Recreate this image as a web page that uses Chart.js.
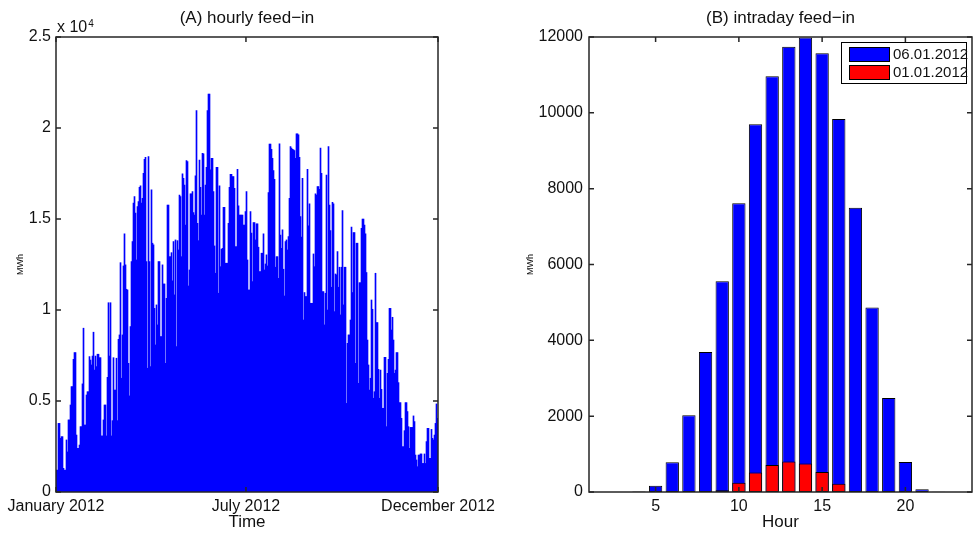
<!DOCTYPE html>
<html>
<head>
<meta charset="utf-8">
<script src="https://cdn.jsdelivr.net/npm/chart.js@4.4.1/dist/chart.umd.min.js"></script>
<style>
    html, body { margin: 0; padding: 0; background: #fff; }
    #fig { position: relative; width: 976px; height: 536px; }
    #fig canvas { position: absolute; top: 0; }
    #histA { left: 0; }
    #histB { left: 510px; }
</style>
</head>
<body>
<div id="fig">
    <canvas id="histA" width="510" height="536"></canvas>
    <canvas id="histB" width="466" height="536"></canvas>
</div>
<script>
// (A) peak feed-in, one value per pixel column of the year (MWh)
const yearPeaks = [
    1200, 1200, 3770, 3770, 2950, 3040, 3040, 1300, 1200, 1200,
    2860, 2200, 3960, 3960, 4780, 5790, 5790, 7290, 7660, 7660,
    3130, 2400, 2400, 2580, 3590, 3590, 5940, 9000, 3680, 3680,
    5330, 5510, 5510, 7440, 7250, 6980, 7470, 8780, 6700, 7470,
    6890, 7570, 7570, 7380, 7380, 3080, 3080, 3960, 4780, 4780,
    3080, 6300, 10400, 7470, 10400, 3080, 3920, 7380, 5600, 5600,
    7350, 3920, 8390, 8630, 12600, 6250, 8630, 12420, 14180, 12480,
    11140, 11100, 7070, 5280, 9090, 12660, 13760, 15870, 16230, 15320,
    12750, 15680, 15960, 16740, 16820, 15870, 16140, 17510, 18280, 18390,
    12660, 6800,
    18430, 12660, 6890, 16600, 13670, 13580, 10090, 8080, 10280, 9180,
    12660, 12660, 8540, 8540, 12480, 11430, 11430, 7070, 10640, 15770,
    15770, 12930, 12930, 13150, 11600, 13760, 10830, 13850, 7990, 13810,
    13300, 16320, 16230, 12930, 17480, 17240, 16870, 14670, 18210, 18150,
    11320, 12200, 16380, 16380, 16510, 15350, 15220, 17370, 20960, 14760,
    13810, 18240, 16740, 15220, 18610, 18580, 15220, 16870, 17840, 20960,
    21870, 21870, 17700, 18340, 18340, 16510, 13520, 12020, 17840, 17840,
    10920, 16820, 12380, 13340, 13390, 15640, 15640, 12570, 12570, 12570,
    14760, 16740, 17460, 17460, 17330, 17330, 16690, 13480, 13480, 17730,
    15720, 15220, 15220, 15220,
    15220, 14670, 14670, 15410, 16510, 12750, 11100, 11100, 15410, 14220,
    11560, 14800, 14800, 13850, 14730, 14730, 13450, 12110, 12110, 13120,
    13120, 14180, 12200, 12530, 13030, 12420, 16450, 19110, 19110, 18830,
    18340, 17660, 17180, 12350, 12930, 12930, 11740, 19130, 14120, 13390,
    14400, 12240, 10770, 13760, 13850, 13300, 14030, 16140, 18980, 18890,
    18830, 18800, 18760, 18340, 19680, 19680, 19620, 18390, 15130, 14000,
    17240, 9450, 10960, 10740, 10740, 17730, 14620, 15830, 10370, 10370,
    10370, 13080, 12380, 16380, 16320, 16780, 16780, 16630, 18890, 17510,
    11010, 11010, 9180, 10920, 17420, 10000, 18980, 15770, 14360, 11250,
    15920, 15830, 9910, 11980,
    11930, 13210, 11250, 12350, 9730, 12350, 15460, 10280, 12350, 12350,
    4870, 8170, 8630, 8630, 9450, 14550, 10960, 14250, 14250, 7070,
    13670, 13670, 5970, 11500, 11500, 14490, 14990, 14990, 14670, 14180,
    12060, 8350, 6980, 5600, 6250, 10550, 10040, 5150, 5510, 12020,
    9310, 9310, 6740, 5150, 6700, 5640, 4600, 4600, 7400, 7400,
    3590, 6520, 7290, 10090, 10090, 8900, 9600, 8350, 6520, 6700,
    7660, 7660, 6010, 4910, 4910, 4050, 2490, 2490, 3370, 4910,
    4910, 4420, 3590, 2400, 3550, 3550, 3550, 4180, 3870, 2030,
    1760, 1390, 2030, 2030, 2090, 2090, 1570, 1570, 2090, 1570,
    2770, 3500, 3500, 1850, 1850, 3440, 2950, 2860, 3130, 3770,
    4840, 4050,
];
const yearDays = 366;
const yearTickDays = [0, 182, 366];
const yearTickLabels = ['January 2012', 'July 2012', 'December 2012'];
const yearValueTicks = [0, 5000, 10000, 15000, 20000, 25000];
const yearValueLabels = ['0', '0.5', '1', '1.5', '2', '2.5'];

// (B) hourly feed-in of two days (MWh)
const hours = [1, 2, 3, 4, 5, 6, 7, 8, 9, 10, 11, 12, 13, 14, 15, 16, 17, 18, 19, 20, 21, 22, 23, 24];
const feedJan6 = [0, 0, 0, 10, 165, 785, 2025, 3690, 5560, 7615, 9700, 10965,
    11745, 11990, 11570, 9840, 7500, 4865, 2478, 792, 72, 5, 0, 0];
const feedJan1 = [0, 0, 0, 0, 0, 0, 0, 0, 45, 246, 511, 714,
    802, 749, 529, 220, 15, 0, 0, 0, 0, 0, 0, 0];
const hourTicks = [5, 10, 15, 20];

const TEXT = '#111';
const FRAME = '#262626';
Chart.defaults.font.family = '"Liberation Sans", Arial, sans-serif';
Chart.defaults.color = TEXT;

// matlab style box with inward ticks on all four sides, plus the "x 10^n" exponent
const matlabAxes = {
    id: 'matlabAxes',
    afterDraw(chart, args, opts) {
        const { ctx, chartArea: a, scales } = chart;
        const len = 5;
        ctx.save();
        ctx.strokeStyle = FRAME;
        ctx.lineWidth = 1.5;
        ctx.beginPath();
        scales.x.ticks.forEach((t) => {
            const px = scales.x.getPixelForValue(t.value);
            ctx.moveTo(px, a.bottom);
            ctx.lineTo(px, a.bottom - len);
            ctx.moveTo(px, a.top);
            ctx.lineTo(px, a.top + len);
        });
        scales.y.ticks.forEach((t) => {
            const py = scales.y.getPixelForValue(t.value);
            ctx.moveTo(a.left, py);
            ctx.lineTo(a.left + len, py);
            ctx.moveTo(a.right, py);
            ctx.lineTo(a.right - len, py);
        });
        ctx.stroke();
        ctx.strokeRect(a.left, a.top, a.right - a.left, a.bottom - a.top);

        if (opts.exponent) {
            ctx.fillStyle = TEXT;
            ctx.textBaseline = 'middle';
            ctx.textAlign = 'left';
            ctx.font = '16px "Liberation Sans", Arial, sans-serif';
            const base = 'x 10';
            ctx.fillText(base, a.left + 1, a.top - 9);
            const w = ctx.measureText(base).width;
            ctx.font = '10px "Liberation Sans", Arial, sans-serif';
            ctx.fillText(opts.exponent, a.left + 2 + w, a.top - 13);
        }
        ctx.restore();
    },
};

// boxed legend inside the top right corner of the plot
const boxLegend = {
    id: 'boxLegend',
    afterDraw(chart, args, opts) {
        if (!opts.display) return;
        const { ctx, chartArea: a } = chart;
        const w = 125;
        const h = 41;
        const left = Math.round(a.right - 6 - w);
        const top = Math.round(a.top + 5);
        ctx.save();
        ctx.fillStyle = '#fff';
        ctx.fillRect(left, top, w, h);
        ctx.strokeStyle = '#000';
        ctx.lineWidth = 1;
        ctx.strokeRect(left + 0.5, top + 0.5, w, h);
        ctx.font = '15px "Liberation Sans", Arial, sans-serif';
        ctx.textBaseline = 'middle';
        ctx.textAlign = 'left';
        chart.data.datasets.forEach((ds, i) => {
            const y = top + 5 + i * 18;
            ctx.fillStyle = ds.backgroundColor;
            ctx.fillRect(left + 8, y, 40, 14);
            ctx.strokeRect(left + 8.5, y + 0.5, 40, 14);
            ctx.fillStyle = TEXT;
            ctx.fillText(ds.label, left + 52, y + 7.5);
        });
        ctx.restore();
    },
};

const flatGrid = { display: false, drawTicks: false };

const chartA = new Chart(document.getElementById('histA'), {
    type: 'bar',
    data: {
        datasets: [{
            label: 'hourly feed-in',
            data: yearPeaks.map((v, i) => ({ x: (i + 0.5) * yearDays / yearPeaks.length, y: v })),
            backgroundColor: '#0000ff',
            borderWidth: 0,
            barPercentage: 1,
            categoryPercentage: 1,
        }],
    },
    options: {
        responsive: false,
        animation: false,
        events: [],
        layout: { padding: { left: 0, right: 72, top: 0, bottom: 0 } },
        plugins: {
            legend: { display: false },
            tooltip: { enabled: false },
            title: {
                display: true,
                text: '(A) hourly feed\u2212in',
                fullSize: false,
                color: TEXT,
                font: { size: 17, weight: 'normal' },
                padding: { top: 8.5, bottom: 8.1 },
            },
            matlabAxes: { exponent: '4' },
        },
        scales: {
            x: {
                type: 'linear',
                min: 0,
                max: yearDays,
                offset: false,
                grid: flatGrid,
                border: { display: false },
                afterBuildTicks(axis) {
                    axis.ticks = yearTickDays.map(value => ({ value }));
                },
                afterFit(axis) {
                    axis.height = 44;
                },
                ticks: {
                    autoSkip: false,
                    maxRotation: 0,
                    minRotation: 0,
                    padding: 5,
                    font: { size: 16 },
                    callback: (v, i) => yearTickLabels[i],
                },
                title: { display: true, text: 'Time', font: { size: 17 }, padding: { top: 0, bottom: 3 } },
            },
            y: {
                min: 0,
                max: 25000,
                grid: flatGrid,
                border: { display: false },
                afterBuildTicks(axis) {
                    axis.ticks = yearValueTicks.map(value => ({ value }));
                },
                afterFit(axis) {
                    axis.width = 56;
                },
                ticks: {
                    padding: 5,
                    font: { size: 16 },
                    callback: (v, i) => yearValueLabels[i],
                },
                title: { display: true, text: 'MWh', font: { size: 9 }, padding: { top: 15, bottom: 0 } },
            },
        },
    },
    plugins: [matlabAxes],
});

const chartB = new Chart(document.getElementById('histB'), {
    type: 'bar',
    data: {
        datasets: [
            {
                label: '06.01.2012',
                data: hours.map((h, i) => ({ x: h, y: feedJan6[i] })),
                backgroundColor: '#0000ff',
                order: 1,
            },
            {
                label: '01.01.2012',
                data: hours.map((h, i) => ({ x: h, y: feedJan1[i] })),
                backgroundColor: '#ff0000',
                order: 0,
            },
        ],
    },
    options: {
        responsive: false,
        animation: false,
        events: [],
        datasets: {
            bar: {
                grouped: false,
                barPercentage: 0.8,
                categoryPercentage: 1,
                borderColor: '#000',
                borderWidth: 1,
                borderSkipped: false,
            },
        },
        layout: { padding: { left: 0, right: 4, top: 0, bottom: 0 } },
        plugins: {
            legend: { display: false },
            tooltip: { enabled: false },
            title: {
                display: true,
                text: '(B) intraday feed\u2212in',
                fullSize: false,
                color: TEXT,
                font: { size: 17, weight: 'normal' },
                padding: { top: 8.5, bottom: 8.1 },
            },
            boxLegend: { display: true },
        },
        scales: {
            x: {
                type: 'linear',
                min: 1,
                max: 24,
                offset: false,
                grid: flatGrid,
                border: { display: false },
                afterBuildTicks(axis) {
                    axis.ticks = hourTicks.map(value => ({ value }));
                },
                afterFit(axis) {
                    axis.height = 44;
                },
                ticks: {
                    autoSkip: false,
                    maxRotation: 0,
                    minRotation: 0,
                    padding: 5,
                    font: { size: 16 },
                    callback: v => String(v),
                },
                title: { display: true, text: 'Hour', font: { size: 17 }, padding: { top: 0, bottom: 3 } },
            },
            y: {
                min: 0,
                max: 12000,
                grid: flatGrid,
                border: { display: false },
                afterFit(axis) {
                    axis.width = 79;
                },
                ticks: {
                    stepSize: 2000,
                    padding: 6,
                    font: { size: 16 },
                    callback: v => String(v),
                },
                title: { display: true, text: 'MWh', font: { size: 9 }, padding: { top: 15, bottom: 0 } },
            },
        },
    },
    plugins: [matlabAxes, boxLegend],
});
</script>
</body>
</html>
